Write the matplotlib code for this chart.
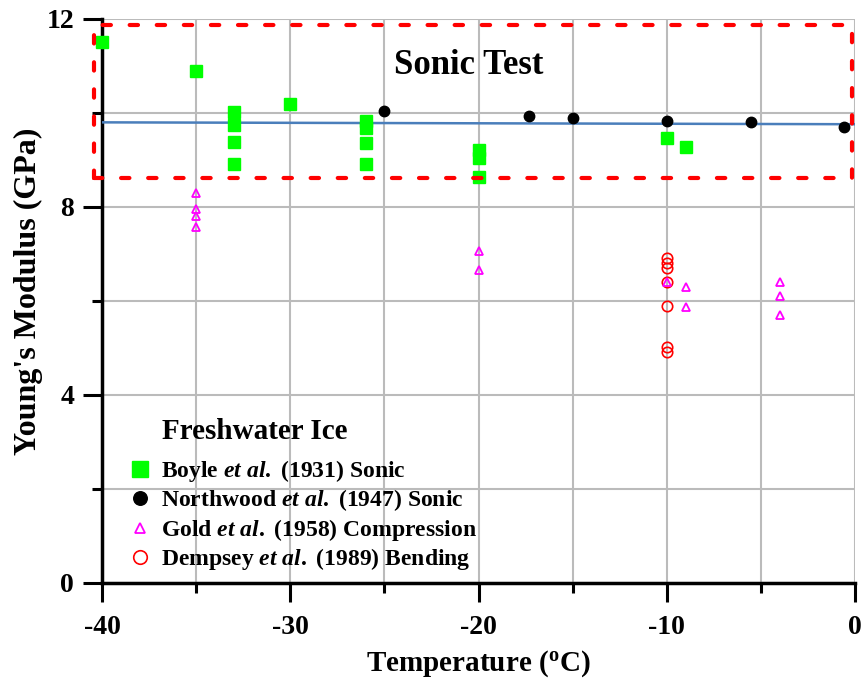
import numpy as np
import matplotlib
matplotlib.use("Agg")
import matplotlib.pyplot as plt
from matplotlib.patches import Rectangle
from matplotlib.ticker import MultipleLocator

plt.rcParams['font.family'] = 'Liberation Serif'
plt.rcParams['font.weight'] = 'bold'
plt.rcParams['axes.unicode_minus'] = False
plt.rcParams['mathtext.fontset'] = 'custom'
plt.rcParams['mathtext.it'] = 'Liberation Serif:italic'
plt.rcParams['mathtext.bf'] = 'Liberation Serif:bold'
plt.rcParams['mathtext.rm'] = 'Liberation Serif:bold'

# data
boyle_t = [-40, -35, -33, -33, -33, -33, -30, -26, -26, -26, -26, -20, -20, -20, -10, -9]
boyle_e = [11.5, 10.9, 10.01, 9.74, 9.39, 8.91, 10.2, 9.83, 9.68, 9.37, 8.91, 9.21, 9.04, 8.64, 9.47, 9.28]

north_t = [-30, -25, -17.3, -15, -10, -5.5, -0.6]
north_e = [10.2, 10.05, 9.93, 9.89, 9.83, 9.81, 9.70]

gold_t = [-35, -35, -35, -35, -20, -20, -10, -9, -9, -4, -4, -4]
gold_e = [8.30, 7.95, 7.81, 7.58, 7.07, 6.66, 6.41, 6.30, 5.88, 6.41, 6.11, 5.70]

demp_t = [-10, -10, -10, -10, -10, -10, -10]
demp_e = [6.91, 6.80, 6.70, 6.40, 5.90, 5.01, 4.91]

fit_t = [-40, 0]
fit_e = [9.80, 9.76]

fig = plt.figure(figsize=(8.66, 6.84), dpi=100)
ax = fig.add_axes([0.1178, 0.1477, 0.8695, 0.8246])

ax.plot(fit_t, fit_e, color='#4a7ebb', lw=1.8, zorder=3)
ax.plot(north_t, north_e, 'o', color='black', ms=7.5, ls='none', zorder=4, clip_on=False,
        label=r'Northwood $\mathit{et\ al.}$ (1947) Sonic')
ax.plot(boyle_t, boyle_e, 's', color='#00ff00', ms=8.5, ls='none', zorder=5, clip_on=False,
        label=r'Boyle $\mathit{et\ al.}$ (1931) Sonic')
ax.plot(gold_t, gold_e, '^', mfc='none', mec='#ff00ff', mew=1.3, ms=6, ls='none', zorder=5,
        label=r'Gold $\mathit{et\ al.}$ (1958) Compression')
ax.plot(demp_t, demp_e, 'o', mfc='none', mec='red', mew=1.2, ms=7.5, ls='none', zorder=4,
        label=r'Dempsey $\mathit{et\ al.}$ (1989) Bending')

rect = Rectangle((-40.45, 8.62), 40.3, 3.26, fill=False, ec='red', lw=3,
                 ls=(0, (2, 4.5)), capstyle='round', zorder=6, clip_on=False)
ax.add_patch(rect)
ax.text(-20.5, 11.02, 'Sonic Test', fontsize=25, ha='center', va='center')

ax.set_xlim(-40, 0)
ax.set_ylim(0, 12)
ax.xaxis.set_major_locator(MultipleLocator(10))
ax.xaxis.set_minor_locator(MultipleLocator(5))
ax.yaxis.set_major_locator(MultipleLocator(4))
ax.yaxis.set_minor_locator(MultipleLocator(2))
ax.grid(which='both', color='#bbbbbb', lw=1.5, zorder=0)
ax.set_axisbelow(True)

for s in ['top', 'right']:
    ax.spines[s].set_visible(False)
for s in ['left', 'bottom']:
    ax.spines[s].set_linewidth(2.5)
ax.tick_params(which='major', length=14, width=2.2, labelsize=20)
ax.tick_params(which='minor', length=7.5, width=2.2)
ax.tick_params(axis='x', which='major', pad=9)
ax.tick_params(axis='y', which='major', pad=6)

ax.set_xlabel(r'Temperature ($^{\mathrm{o}}$C)', fontsize=21, fontweight='bold', labelpad=6)
ax.set_ylabel("Young's Modulus (GPa)", fontsize=23, fontweight='bold')
ax.yaxis.set_label_coords(-0.078, 0.517)

h, l = ax.get_legend_handles_labels()
order = [1, 0, 2, 3]
leg = ax.legend([h[i] for i in order], [l[i] for i in order], loc='lower left',
                bbox_to_anchor=(0.006, -0.019), frameon=False, fontsize=17,
                markerscale=1.3, handlelength=1.0, handletextpad=0.4,
                labelspacing=0.15)
ax.text(0.08, 0.268, 'Freshwater Ice', transform=ax.transAxes, fontsize=21,
        ha='left', va='center')

fig.savefig('out.png', dpi=100)
